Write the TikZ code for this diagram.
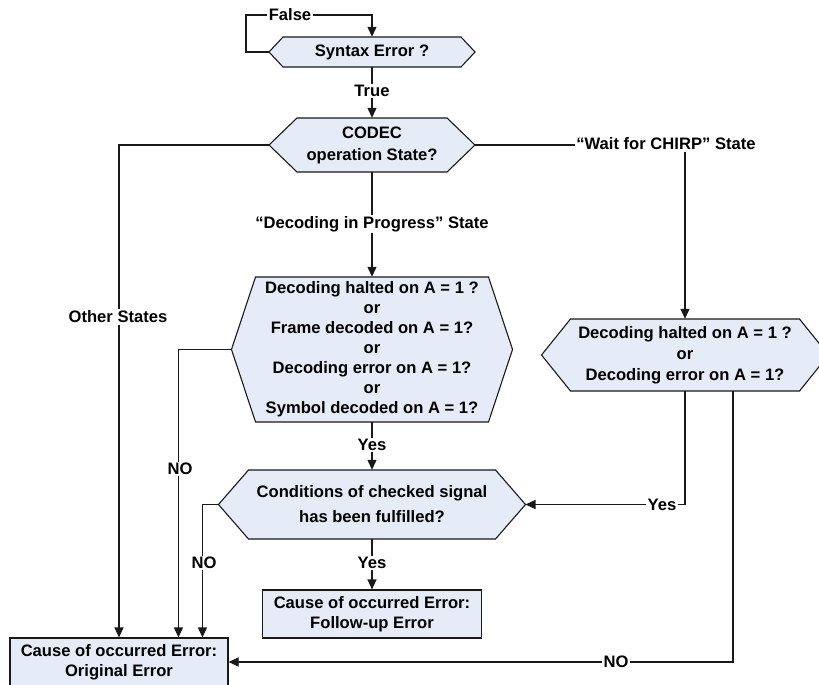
\documentclass[tikz,border=0pt]{standalone}
\usepackage{fontspec}
\setmainfont{Liberation Sans}
\usetikzlibrary{arrows.meta}
\definecolor{boxfill}{RGB}{230,236,247}
\definecolor{edge}{RGB}{25,25,25}

% Hexagonal decision shape:
% #1 name, #2 cx, #3 cy, #4 half width of flat part, #5 half height, #6 point depth, #7 text
\newcommand{\flowhex}[7]{%
  \path[shapeline] ({#2-#4},{#3-#5}) -- ({#2+#4},{#3-#5}) -- ({#2+#4+#6},#3)
     -- ({#2+#4},{#3+#5}) -- ({#2-#4},{#3+#5}) -- ({#2-#4-#6},#3) -- cycle;
  \node[hextext, minimum width={2*#4}, minimum height={2*#5}] (#1) at (#2,#3) {#7};
  \coordinate (#1-w) at ({#2-#4-#6},#3);
  \coordinate (#1-e) at ({#2+#4+#6},#3);
}

\begin{document}
\begin{tikzpicture}[x=1pt,y=-1pt,
  font=\fontsize{16.6}{20}\selectfont\bfseries,
  line/.style={draw=edge, line width=1.1pt},
  arr/.style={line, -{Triangle[length=10pt,width=9pt]}},
  shapeline/.style={draw=edge, fill=boxfill, line width=1.1pt, line join=miter},
  hextext/.style={inner sep=0pt, align=center, text=black},
  procbox/.style={shapeline, inner sep=0pt, align=center, text=black},
  lbl/.style={fill=white, inner sep=1.5pt, text=black}]

\useasboundingbox (0,0) rectangle (819,685);
\clip (0,0) rectangle (819,685);

% decision shapes
\flowhex{syn}{372}{52}{89}{15}{14}{Syntax Error ?}
\flowhex{codec}{372}{145}{75}{27}{28}{CODEC\\[2pt] operation State?}
\flowhex{big}{372}{349.5}{116.5}{72.5}{24}{Decoding halted on A = 1 ?\\ or\\ Frame decoded on A = 1?\\ or\\ Decoding error on A = 1?\\ or\\ Symbol decoded on A = 1?}
\flowhex{rhex}{685}{355}{114.5}{36}{29}{Decoding halted on A = 1 ?\\[1pt] or\\[1pt] Decoding error on A = 1?}
\flowhex{cond}{372}{504.5}{123.5}{34.5}{30}{Conditions of checked signal\\[5pt] has been fulfilled?}

% result boxes
\node[procbox, minimum width=219, minimum height=48] (follow) at (372,614)
  {Cause of occurred Error:\\ Follow-up Error};
\node[procbox, minimum width=218, minimum height=48] (orig) at (119,662)
  {Cause of occurred Error:\\ Original Error};

% helper points
\coordinate (loopL) at (246,52);
\coordinate (loopT) at (246,15);

% connectors
\draw[arr] (syn-w) -- (loopL) -- (loopT) -- (syn.north |- loopT) -- (syn.north);
\draw[arr] (syn.south) -- (codec.north);
\draw[arr] (codec-w) -| (orig.north);
\draw[arr] (codec-e) -| (rhex.north);
\draw[arr] (codec.south) -- (big.north);
\draw[arr] (big-w) -| ([xshift=169pt]orig.north west);
\draw[arr] (big.south) -- (cond.north);
\draw[arr] (cond-w) -| ([xshift=193pt]orig.north west);
\draw[arr] (cond.south) -- (follow.north);
\draw[arr] (rhex.south) |- (cond-e);
\draw[arr] ([xshift=48pt]rhex.south) |- (orig.east);

% connector labels
\node[lbl] at (290,15) {False};
\node[lbl] at (372,91) {True};
\node[lbl] at (118,317) {Other States};
\node[lbl] at (666,144) {“Wait for CHIRP” State};
\node[lbl] at (372,224) {“Decoding in Progress” State};
\node[lbl] at (180,469) {NO};
\node[lbl] at (372,445) {Yes};
\node[lbl] at (662,505) {Yes};
\node[lbl] at (204,563) {NO};
\node[lbl] at (372,563) {Yes};
\node[lbl] at (616,662) {NO};
\end{tikzpicture}
\end{document}
